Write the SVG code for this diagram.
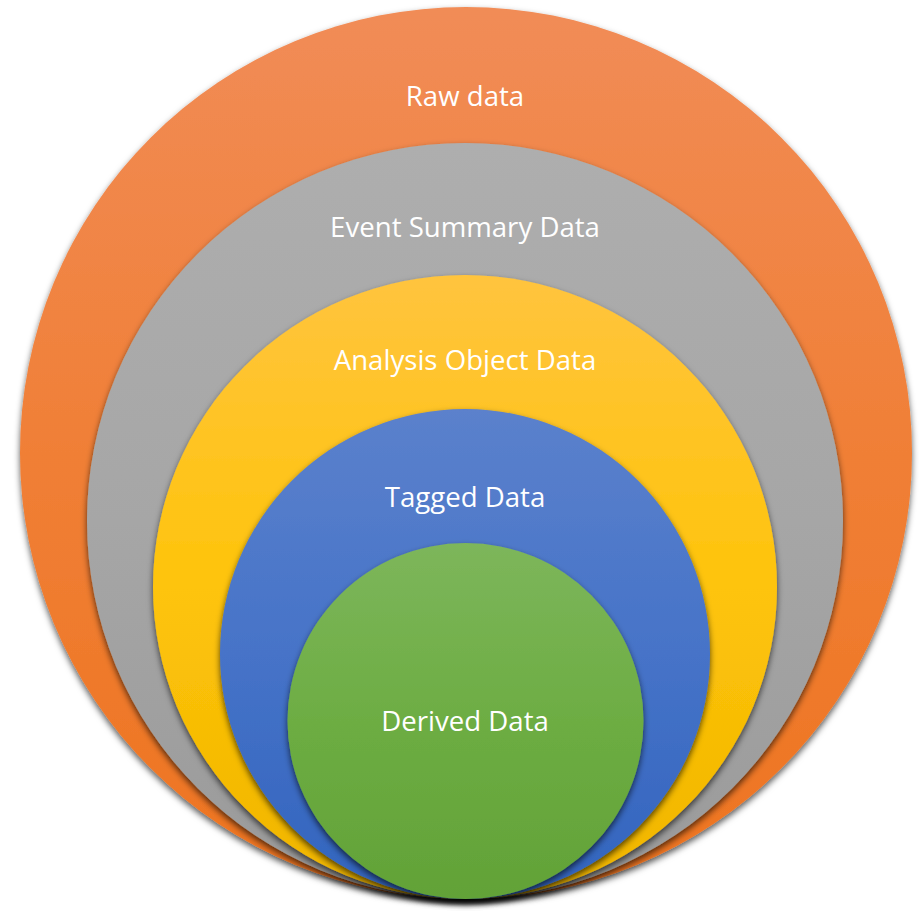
<svg xmlns="http://www.w3.org/2000/svg" width="919" height="911" viewBox="0 0 919 911">
  <defs>
    <linearGradient id="gOrange" x1="0" y1="0" x2="0" y2="1">
      <stop offset="0" stop-color="#F18C57"/>
      <stop offset="0.5" stop-color="#F07F36"/>
      <stop offset="1" stop-color="#EE7420"/>
    </linearGradient>
    <linearGradient id="gGray" x1="0" y1="0" x2="0" y2="1">
      <stop offset="0" stop-color="#AEAEAE"/>
      <stop offset="0.5" stop-color="#A6A6A6"/>
      <stop offset="1" stop-color="#9A9A9A"/>
    </linearGradient>
    <linearGradient id="gYellow" x1="0" y1="0" x2="0" y2="1">
      <stop offset="0" stop-color="#FFC43E"/>
      <stop offset="0.5" stop-color="#FEC40A"/>
      <stop offset="1" stop-color="#F0B500"/>
    </linearGradient>
    <linearGradient id="gBlue" x1="0" y1="0" x2="0" y2="1">
      <stop offset="0" stop-color="#5B81CC"/>
      <stop offset="0.5" stop-color="#4673C8"/>
      <stop offset="1" stop-color="#3264BE"/>
    </linearGradient>
    <linearGradient id="gGreen" x1="0" y1="0" x2="0" y2="1">
      <stop offset="0" stop-color="#7DB65B"/>
      <stop offset="0.5" stop-color="#6DAD43"/>
      <stop offset="1" stop-color="#62A237"/>
    </linearGradient>
    <!-- soft drop shadow cast below each disc -->
    <filter id="shadow" x="-10%" y="-10%" width="120%" height="125%">
      <feDropShadow dx="0" dy="3.5" stdDeviation="3" flood-color="#000" flood-opacity="0.65"/>
    </filter>
  </defs>
  <style>
    .ring { filter: url(#shadow); }
    .label { font-family: "Open Sans", "Liberation Sans", sans-serif; font-size: 27.6px; fill: #FFFFFF; text-anchor: middle; }
  </style>

  <g id="raw-data">
    <circle class="ring" cx="466" cy="453" r="446" fill="url(#gOrange)"/>
    <text class="label" x="465" y="106">Raw data</text>
  </g>

  <g id="event-summary-data">
    <circle class="ring" cx="465" cy="521" r="378" fill="url(#gGray)"/>
    <text class="label" x="465" y="237">Event Summary Data</text>
  </g>

  <g id="analysis-object-data">
    <circle class="ring" cx="465" cy="587" r="312" fill="url(#gYellow)"/>
    <text class="label" x="465" y="370">Analysis Object Data</text>
  </g>

  <g id="tagged-data">
    <circle class="ring" cx="465" cy="654" r="245" fill="url(#gBlue)"/>
    <text class="label" x="465" y="507">Tagged Data</text>
  </g>

  <g id="derived-data">
    <circle class="ring" cx="465.5" cy="721" r="178" fill="url(#gGreen)"/>
    <text class="label" x="465" y="731">Derived Data</text>
  </g>
</svg>
